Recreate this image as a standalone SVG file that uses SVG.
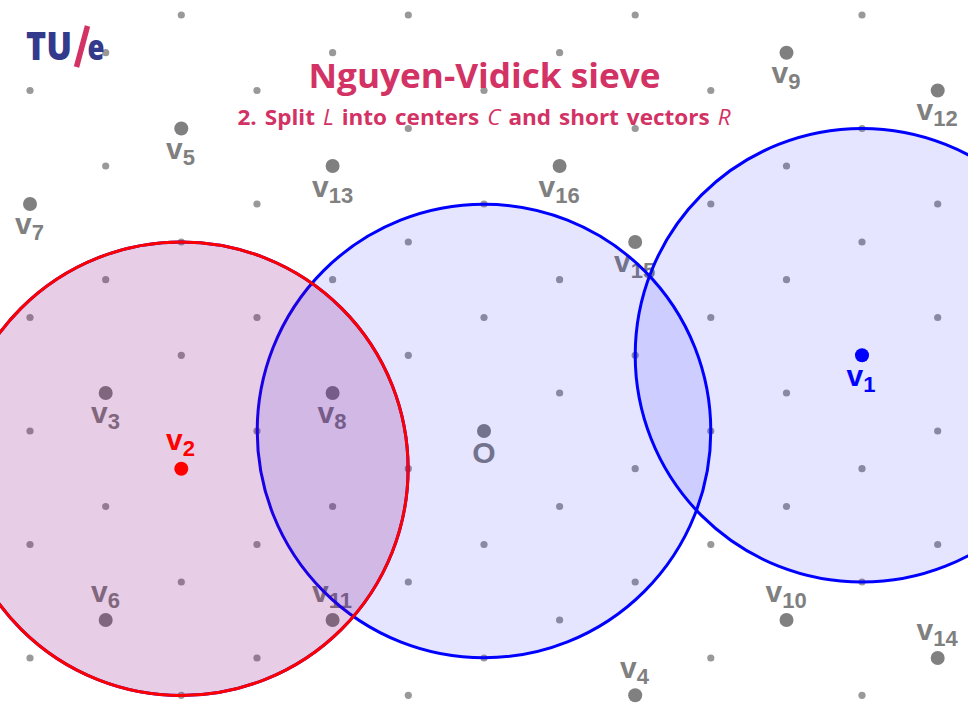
<svg xmlns="http://www.w3.org/2000/svg" width="968" height="726" viewBox="0 0 968 726">
<style>
.s{fill:#999}
.b{fill:#808080}
.l{font:bold 30px "Liberation Sans",Arial,sans-serif;fill:#808080}
.l tspan{font-size:22px}
.t{font-family:"Open Sans","Noto Sans",sans-serif;font-weight:700;fill:#d23264}
.i{font-weight:400;font-style:italic}
.blue{fill:#00f;fill-opacity:.1;stroke:#00f;stroke-width:3}
.redf{fill:#f00;fill-opacity:.1;stroke:#f00;stroke-width:3}
</style>
<defs><circle id="d" r="3.6" class="s"/></defs>
<rect width="968" height="726" fill="#fff"/>
<g id="lattice">
<use href="#d" x="30" y="90.500"/><use href="#d" x="30" y="317.500"/><use href="#d" x="30" y="431"/><use href="#d" x="30" y="544.500"/><use href="#d" x="30" y="658"/>
<use href="#d" x="105.700" y="52.700"/><use href="#d" x="105.700" y="166"/><use href="#d" x="105.700" y="279.700"/><use href="#d" x="105.700" y="506.500"/>
<use href="#d" x="181.300" y="15"/><use href="#d" x="181.300" y="242"/><use href="#d" x="181.300" y="355.300"/><use href="#d" x="181.300" y="582"/><use href="#d" x="181.300" y="695.300"/>
<use href="#d" x="257" y="90.500"/><use href="#d" x="257" y="204"/><use href="#d" x="257" y="317.500"/><use href="#d" x="257" y="431"/><use href="#d" x="257" y="544.500"/><use href="#d" x="257" y="658"/>
<use href="#d" x="332.600" y="52.700"/><use href="#d" x="332.600" y="279.700"/><use href="#d" x="332.600" y="506.500"/>
<use href="#d" x="408.300" y="15"/><use href="#d" x="408.300" y="128.500"/><use href="#d" x="408.300" y="242"/><use href="#d" x="408.300" y="355.300"/><use href="#d" x="408.300" y="468.700"/><use href="#d" x="408.300" y="582"/><use href="#d" x="408.300" y="695.300"/>
<use href="#d" x="484" y="90.500"/><use href="#d" x="484" y="204"/><use href="#d" x="484" y="317.500"/><use href="#d" x="484" y="544.500"/><use href="#d" x="484" y="658"/>
<use href="#d" x="559.600" y="52.700"/><use href="#d" x="559.600" y="279.700"/><use href="#d" x="559.600" y="393"/><use href="#d" x="559.600" y="506.500"/><use href="#d" x="559.600" y="620"/>
<use href="#d" x="635.200" y="15"/><use href="#d" x="635.200" y="128.500"/><use href="#d" x="635.200" y="355.300"/><use href="#d" x="635.200" y="468.700"/><use href="#d" x="635.200" y="582"/>
<use href="#d" x="710.800" y="90.500"/><use href="#d" x="710.800" y="204"/><use href="#d" x="710.800" y="317.500"/><use href="#d" x="710.800" y="431"/><use href="#d" x="710.800" y="544.500"/><use href="#d" x="710.800" y="658"/>
<use href="#d" x="786.500" y="166"/><use href="#d" x="786.500" y="279.700"/><use href="#d" x="786.500" y="393"/><use href="#d" x="786.500" y="506.500"/>
<use href="#d" x="862" y="15"/><use href="#d" x="862" y="128.500"/><use href="#d" x="862" y="242"/><use href="#d" x="862" y="468.700"/><use href="#d" x="862" y="582"/><use href="#d" x="862" y="695.300"/>
<use href="#d" x="937.700" y="204"/><use href="#d" x="937.700" y="317.500"/><use href="#d" x="937.700" y="431"/><use href="#d" x="937.700" y="544.500"/>
</g>
<g id="O"><circle class="b" cx="484" cy="431" r="7"/><text class="l" x="484" y="463" text-anchor="middle">O</text></g>
<g id="v3"><circle class="b" cx="105.700" cy="393" r="7"/><text class="l" x="91" y="423">v<tspan dy="6">3</tspan></text></g>
<g id="v4"><circle class="b" cx="635.200" cy="695.300" r="7"/><text class="l" x="620" y="678">v<tspan dy="6">4</tspan></text></g>
<g id="v5"><circle class="b" cx="181.300" cy="128.500" r="7"/><text class="l" x="166" y="158.500">v<tspan dy="6">5</tspan></text></g>
<g id="v6"><circle class="b" cx="105.700" cy="620" r="7"/><text class="l" x="91" y="602">v<tspan dy="6">6</tspan></text></g>
<g id="v7"><circle class="b" cx="30" cy="204" r="7"/><text class="l" x="15" y="233.500">v<tspan dy="6">7</tspan></text></g>
<g id="v8"><circle class="b" cx="332.600" cy="393" r="7"/><text class="l" x="317.500" y="423">v<tspan dy="6">8</tspan></text></g>
<g id="v9"><circle class="b" cx="786.500" cy="52.700" r="7"/><text class="l" x="771.500" y="82.500">v<tspan dy="6">9</tspan></text></g>
<g id="v10"><circle class="b" cx="786.500" cy="620" r="7"/><text class="l" x="765.500" y="602">v<tspan dy="6">10</tspan></text></g>
<g id="v11"><circle class="b" cx="332.600" cy="620" r="7"/><text class="l" x="312" y="602">v<tspan dy="6">11</tspan></text></g>
<g id="v12"><circle class="b" cx="937.700" cy="90.500" r="7"/><text class="l" x="916.500" y="120">v<tspan dy="6">12</tspan></text></g>
<g id="v13"><circle class="b" cx="332.600" cy="166" r="7"/><text class="l" x="312" y="196.500">v<tspan dy="6">13</tspan></text></g>
<g id="v14"><circle class="b" cx="937.700" cy="658" r="7"/><text class="l" x="916.500" y="640">v<tspan dy="6">14</tspan></text></g>
<g id="v15"><circle class="b" cx="635.200" cy="242" r="7"/><text class="l" x="614" y="272">v<tspan dy="6">15</tspan></text></g>
<g id="v16"><circle class="b" cx="559.600" cy="166" r="7"/><text class="l" x="538.500" y="196.500">v<tspan dy="6">16</tspan></text></g>
<g id="circles">
<circle class="blue" cx="484" cy="431" r="226.800"/>
<circle class="blue" cx="862" cy="355.300" r="226.800"/>
<circle class="blue" cx="181.300" cy="468.700" r="226.800"/>
<circle class="redf" cx="181.300" cy="468.700" r="226.800"/>
</g>
<g id="v1"><circle cx="862" cy="355.300" r="7" fill="#00f"/><text class="l" x="846.500" y="385.500" style="fill:#00f">v<tspan dy="6">1</tspan></text></g>
<g id="v2"><circle cx="181.300" cy="468.700" r="7" fill="#f00"/><text class="l" x="166" y="450" style="fill:#f00">v<tspan dy="6">2</tspan></text></g>
<g id="logo">
<text x="26" y="60" font-family="Open Sans,sans-serif" font-weight="800" font-size="38" fill="#333a8c" textLength="46" lengthAdjust="spacingAndGlyphs">TU</text>
<text x="87.500" y="60" font-family="Open Sans,sans-serif" font-weight="800" font-size="35" fill="#333a8c" textLength="17" lengthAdjust="spacingAndGlyphs">e</text>
<path d="M87.500 26L76.500 67" stroke="#d23264" stroke-width="5.500" fill="none"/>
</g>
<g id="title">
<text class="t" x="308.500" y="88" font-size="34" textLength="352" lengthAdjust="spacingAndGlyphs">Nguyen-Vidick sieve</text>
<text class="t" x="237.500" y="124.500" font-size="21" textLength="493" lengthAdjust="spacingAndGlyphs" xml:space="preserve" word-spacing="2">2. Split <tspan class="i">L</tspan> into centers <tspan class="i">C</tspan> and short vectors <tspan class="i">R</tspan></text>
</g>
</svg>
